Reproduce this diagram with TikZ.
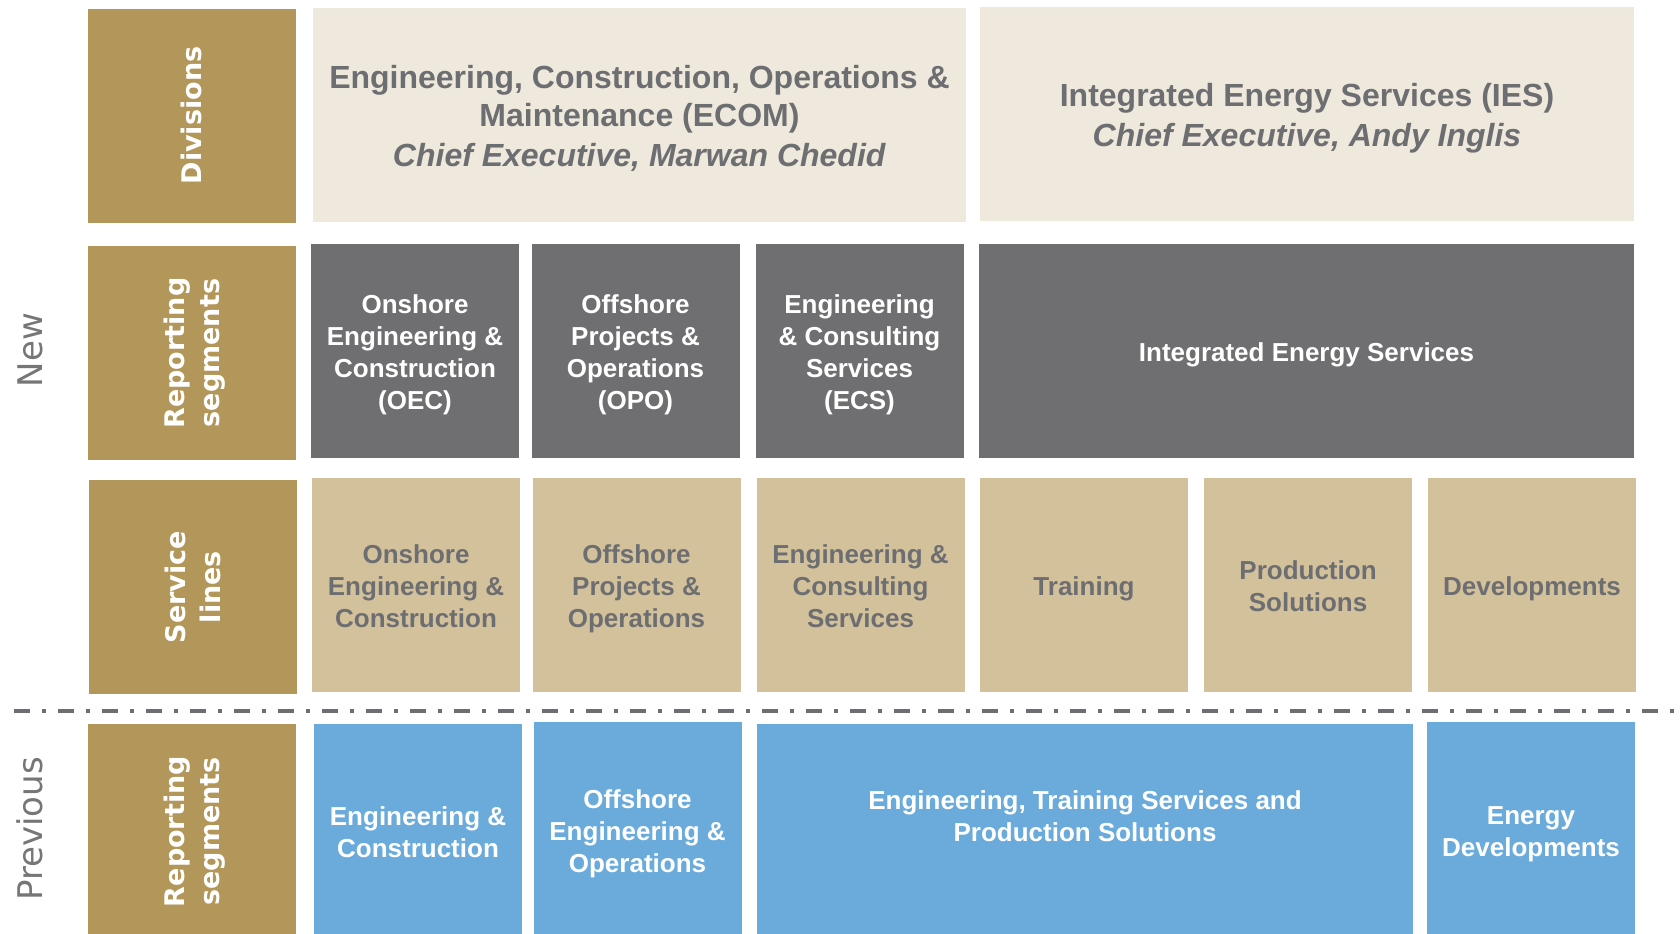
\documentclass[tikz,border=0pt]{standalone}
\usepackage{fontspec}
\setmainfont{Liberation Sans}
\newfontfamily\lblfont{DejaVu Sans}

\definecolor{gold}{HTML}{B3975A}
\definecolor{cream}{HTML}{EFE8DC}
\definecolor{slate}{HTML}{6F6F71}
\definecolor{tan}{HTML}{D3C19C}
\definecolor{sky}{HTML}{6AABDC}
\definecolor{inkgray}{HTML}{6D6E71}
\definecolor{taggray}{HTML}{767676}

\begin{document}
\begin{tikzpicture}
[
	x=0.5pt, y=-0.5pt,
% Strut around the text lines, so caps sit in the middle
	vcentre/.style 2 args={
		execute at begin node={\rule[-#1]{0pt}{#2}},
		execute at end node={\rule[-#1]{0pt}{#2}}},
% Gold row heading style
	rowlabel/.style={
		rectangle,
		fill=gold,
		rotate=90,
		minimum width=107pt,
		minimum height=104pt,
		inner sep=0pt,
		text width=100pt,
		align=flush center,
		text=white,
		vcentre={3.7pt}{17.5pt},
		font=\lblfont\bfseries\fontsize{13.5}{17.5}\selectfont},
% Common box style
	block/.style={
		rectangle,
		minimum width=104pt,
		minimum height=107pt,
		inner sep=0pt,
		text width=100pt,
		align=flush center},
% Division style
	division/.style={
		block,
		fill=cream,
		text=inkgray,
		text width=320pt,
		vcentre={3.3pt}{19pt},
		font=\bfseries\fontsize{16}{19}\selectfont},
% Segment styles
	small/.style={
		vcentre={2.85pt}{16pt},
		font=\bfseries\fontsize{13}{16}\selectfont},
	segment/.style={block, small, fill=slate, text=white},
	serviceline/.style={block, small, fill=tan, text=inkgray},
	oldsegment/.style={block, small, fill=sky, text=white, minimum height=107.5pt},
	oldtext/.style={
		inner sep=0pt,
		align=center,
		text=white,
		font=\bfseries\fontsize{13}{16}\selectfont},
% New / Previous tag style
	sidelabel/.style={
		rotate=90,
		inner sep=0pt,
		text=taggray,
		font=\lblfont\fontsize{17}{20}\selectfont},
% Separator style
	cutline/.style={
		draw=inkgray,
		line width=2pt,
		dash pattern=on 8pt off 6pt on 2pt off 6pt},
]

\useasboundingbox (0,0) rectangle (1680,933);

% Side tags
\node[sidelabel] (newtag) at (30,350) {New};
\node[sidelabel] (prevtag) at (30,829) {Previous};

% Divisions row
\node[rowlabel] (divhead) at (191.5,115.5) {Divisions};
\node[division, minimum width=326.5pt] (ecom) at (639.5,115)
	{Engineering, Construction, Operations \&\\
	Maintenance (ECOM)\\
	\textit{Chief Executive, Marwan Chedid}};
\node[division, minimum width=327pt] (ies) at (1307,114)
	{Integrated Energy Services (IES)\\
	\textit{Chief Executive, Andy Inglis}};

% Reporting segments row
\node[rowlabel] (newhead) at (192,353) {Reporting\\segments};
\node[segment] (oec) at (415,351) {Onshore\\Engineering \&\\Construction\\(OEC)};
\node[segment] (opo) at (635.5,351) {Offshore\\Projects \&\\Operations\\(OPO)};
\node[segment] (ecs) at (859.5,351) {Engineering\\\& Consulting\\Services\\(ECS)};
\node[segment, minimum width=327.5pt, text width=320pt] (iesseg) at (1306.5,351) {Integrated Energy Services};

% Service lines row
\node[rowlabel] (svchead) at (193,587) {Service\\lines};
\node[serviceline] (svconshore) at (416,585) {Onshore\\Engineering \&\\Construction};
\node[serviceline] (svcoffshore) at (636.5,585) {Offshore\\Projects \&\\Operations};
\node[serviceline] (svcconsult) at (860.5,585) {Engineering \&\\Consulting\\Services};
\node[serviceline] (svctraining) at (1084,585) {Training};
\node[serviceline] (svcprod) at (1308,585) {Production\\Solutions};
\node[serviceline] (svcdev) at (1532,585) {Developments};

% Separator
\coordinate (cutL) at (14,711);
\coordinate (cutR) at (1674,711);
\draw[cutline] (cutL) -- (cutR);

% Previous row (boxes run past the bottom edge)
\node[rowlabel, minimum width=107.5pt] (oldhead) at (192,831.5) {Reporting\\segments};
\node[oldsegment] (ec) at (418,831.5) {Engineering \&\\Construction};
\node[oldsegment, minimum height=108.5pt] (oeo) at (637.5,830.5) {Offshore\\Engineering \&\\Operations};
\node[oldsegment, minimum width=328pt, text width=320pt] (etsps) at (1085,831.5) {};
\node[oldtext] (etstext) at ([yshift=7.75pt]etsps.center)
	{Engineering, Training Services and\\Production Solutions};
\node[oldsegment, minimum height=108.5pt] (endev) at (1531,830.5) {Energy\\Developments};

\end{tikzpicture}
\end{document}
